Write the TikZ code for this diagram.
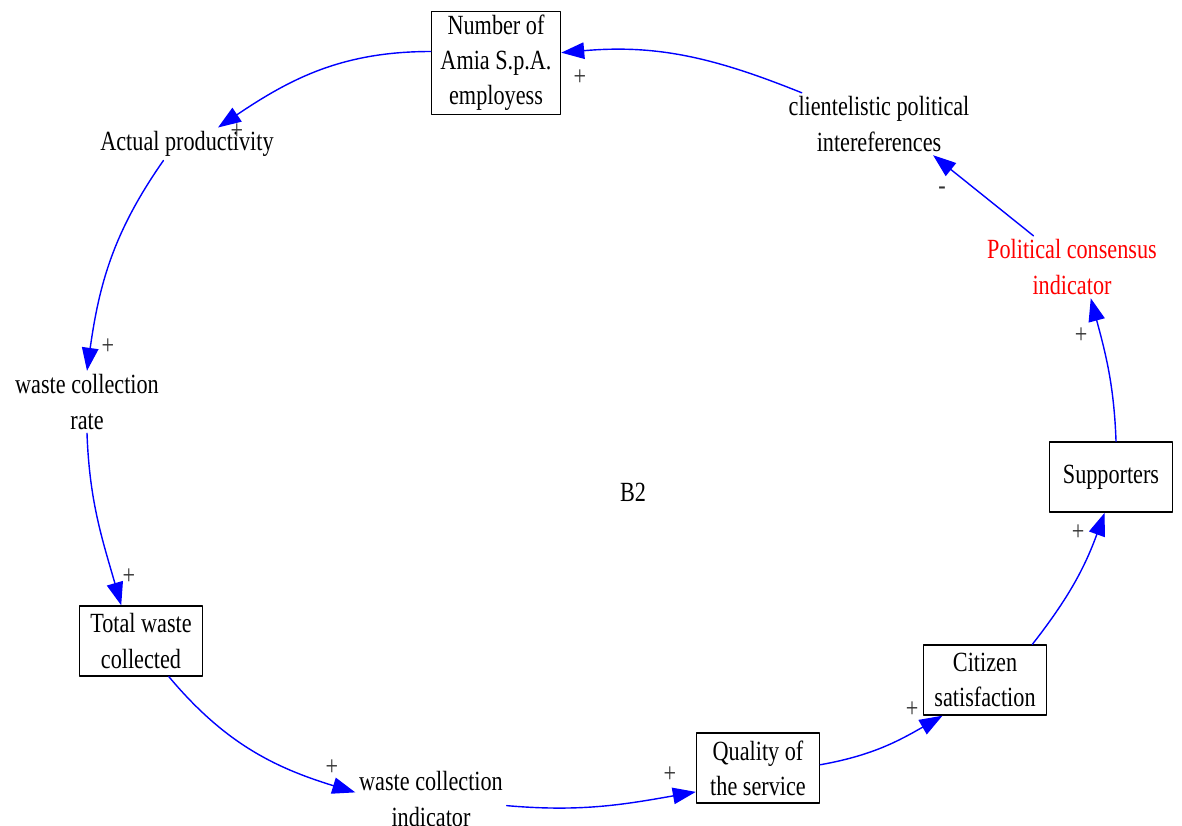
\documentclass[tikz,border=0pt]{standalone}
\usepackage{fontspec}
\setmainfont{Liberation Serif}[FakeStretch=0.8]
\usetikzlibrary{arrows.meta}
\begin{document}
\begin{tikzpicture}[x=0.02cm,y=0.02cm,line cap=round,line join=round,
        font=\fontsize{15.8}{20}\selectfont,
        var/.style={align=center,inner sep=2pt},
        stock/.style={draw,line width=0.8pt,align=center,inner xsep=0.18cm,inner ysep=0.07cm,
            minimum width=2.46cm,minimum height=1.4cm},
        link/.style={draw=blue,line width=0.8pt,-{Triangle[length=0.46cm,width=0.33cm]}},
        sign/.style={text=black!80,inner sep=1pt}]
    \useasboundingbox (0,0) rectangle (1182,-825);
    % variables of the loop
    \node[stock] (emp) at (496,-63) {Number of\\Amia S.p.A.\\employess};
    \node[var] (prod) at (187,-144) {Actual productivity};
    \node[var] (rate) at (87,-402) {waste collection\\rate};
    \node[stock] (total) at (141,-641) {Total waste\\collected};
    \node[var] (ind) at (431,-799) {waste collection\\indicator};
    \node[stock] (qual) at (758,-768) {Quality of\\the service};
    \node[stock] (sat) at (985,-680) {Citizen\\satisfaction};
    \node[stock] (supp) at (1111,-477) {Supporters};
    \node[var,text=red] (cons) at (1072,-267) {Political consensus\\indicator};
    \node[var] (cli) at (879,-124) {clientelistic political\\intereferences};
    \node (loop) at (633,-492) {B2};
    % causal links
    \draw[link] (cli.158) to[out=158,in=5] (emp.9);
    \draw[link] (emp.170) to[out=180,in=34] (prod.28);
    \draw[link] (prod.215) to[out=235,in=82] (rate.north);
    \draw[link] (rate.south) to[out=272,in=106] (total.119);
    \draw[link] (total.-52) to[out=-50,in=163] (ind.175);
    \draw[link] (ind.-5) to[out=-5,in=190] (qual.201);
    \draw[link] (qual.3) to[out=10,in=210] (sat.220);
    \draw[link] (sat.37) to[out=52,in=250] (supp.260);
    \draw[link] (supp.82) to[out=92,in=285] (cons.-59);
    \draw[link] (cons.141) -- (cli.-30);
    % polarities
    \foreach \x/\y [count=\i] in {580/78,237/132,108/347,129/577,332/768,670/775,912/710,1078/533,1081/336}
        \node[sign] (p\i) at (\x,-\y) {+};
    \node[sign] (m1) at (942,-191) {-};
\end{tikzpicture}
\end{document}
